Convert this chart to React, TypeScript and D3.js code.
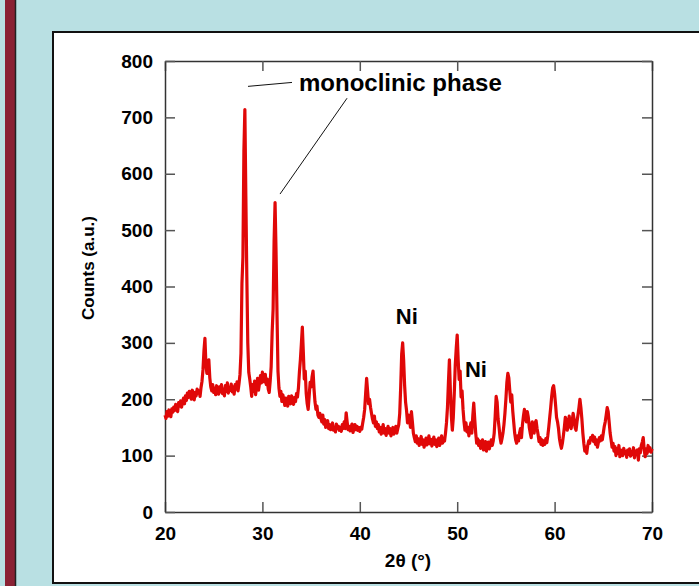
import React, { useEffect, useRef } from "react";
import * as d3 from "d3";

const angleStart = 20;
const angleStep = 0.1;
const counts = [
  172, 166, 178, 170, 181, 175, 169, 183, 177, 186,
  180, 191, 184, 178, 194, 188, 197, 186, 195, 202,
  192, 206, 198, 211, 203, 214, 208, 200, 216, 209,
  199, 212, 206, 218, 211, 215, 205, 221, 232, 252,
  286, 308, 262, 246, 264, 270, 238, 222, 215, 226,
  212, 220, 208, 224, 215, 209, 222, 213, 226, 210,
  218, 206, 224, 214, 229, 211, 220, 216, 227, 213,
  222, 209, 226, 218, 231, 215, 228, 244, 282, 405,
  452, 640, 714, 560, 418, 300, 248, 236, 222, 205,
  226, 214, 232, 208, 222, 237, 216, 228, 242, 229,
  248, 238, 231, 244, 226, 236, 218, 212, 232, 258,
  318, 360, 480, 549, 462, 350, 250, 220, 205, 214,
  196, 208, 200, 189, 202, 195, 188, 205, 198, 192,
  206, 198, 191, 203, 196, 210, 204, 220, 248, 270,
  298, 328, 284, 236, 250, 210, 192, 182, 205, 230,
  222, 240, 250, 218, 195, 182, 188, 172, 168, 175,
  166, 160, 172, 156, 164, 150, 158, 162, 148, 155,
  146, 152, 158, 145, 150, 142, 156, 148, 152, 145,
  150, 143, 155, 148, 160, 148, 176, 160, 146, 152,
  144, 150, 156, 141, 148, 155, 146, 152, 145, 150,
  143, 150, 147, 158, 168, 182, 210, 237, 215, 192,
  200, 186, 175, 165, 158, 170, 152, 160, 148, 155,
  142, 150, 138, 146, 155, 140, 148, 136, 145, 152,
  140, 148, 135, 143, 150, 138, 145, 152, 140, 148,
  155, 175, 222, 280, 300, 270, 225, 195, 180, 158,
  172, 165, 150, 178, 160, 140, 132, 125, 135, 122,
  130, 118, 126, 134, 120, 128, 115, 124, 131, 119,
  127, 135, 121, 129, 117, 126, 133, 120, 128, 116,
  124, 131, 118, 127, 135, 122, 130, 126, 140, 158,
  185, 230, 270, 215, 170, 145, 168, 210, 260, 290,
  314, 270, 235, 250, 204, 215, 182, 160, 145, 158,
  142, 150, 135, 148, 158, 140, 170, 193, 165, 140,
  122, 130, 118, 126, 113, 121, 128, 110, 119, 125,
  108, 117, 124, 112, 120, 128, 118, 126, 140, 170,
  205, 195, 165, 150, 132, 122, 130, 140, 155, 175,
  200, 230, 246, 238, 215, 195, 208, 180, 160, 140,
  128, 122, 135, 126, 140, 148, 132, 155, 170, 182,
  170, 160, 178, 168, 150, 140, 132, 160, 150, 140,
  158, 162, 148, 138, 125, 132, 120, 128, 118, 126,
  120, 130, 123, 135, 150, 168, 185, 205, 220, 224,
  210, 190, 168, 160, 148, 130, 120, 113, 122, 135,
  150, 168, 162, 145, 158, 170, 152, 148, 160, 175,
  165, 150, 145, 160, 172, 185, 200, 185, 165, 140,
  122, 108, 115, 104, 118, 126, 122, 132, 128, 136,
  125, 133, 120, 128, 115, 124, 132, 126, 135, 128,
  140, 152, 160, 172, 185, 178, 160, 140, 128, 115,
  122, 108, 116, 100, 112, 104, 118, 98, 110, 106,
  100, 113, 104, 108, 97, 110, 102, 112, 99, 107,
  102, 114, 96, 108, 104, 110, 92, 112, 105, 118,
  124, 132, 110, 98, 112, 104, 118, 108, 114, 106,
  112,
];

const xTicks = [20, 30, 40, 50, 60, 70];
const yTicks = [0, 100, 200, 300, 400, 500, 600, 700, 800];

// labels placed in data coordinates (angle, counts)
const labels = [
  { text: "monoclinic phase", angle: 33.76, value: 747, size: 24 },
  { text: "Ni", angle: 43.7, value: 333, size: 22 },
  { text: "Ni", angle: 50.8, value: 239, size: 22 },
];
const leaderLines = [
  { a0: 28.52, v0: 755, a1: 33.04, v1: 762 },
  { a0: 38.69, v0: 734, a1: 31.81, v1: 564 },
];

const W = 699;
const H = 586;

const App = () => {
  const ref = useRef<SVGSVGElement | null>(null);

  useEffect(() => {
    document.body.style.margin = "0";
    if (!ref.current) return;
    const svg = d3.select(ref.current);
    svg.selectAll("*").remove();

    const font = "'Liberation Sans', Arial, sans-serif";
    const margin = { top: 61, right: 47, bottom: 74, left: 165 };

    // slide background
    svg.append("rect").attr("width", W).attr("height", H).attr("fill", "#b9e0e3");
    svg.append("rect").attr("x", 5).attr("y", 0).attr("width", 10).attr("height", H).attr("fill", "#8a2234");
    svg.append("line").attr("x1", 15.5).attr("x2", 15.5).attr("y1", 0).attr("y2", H)
      .attr("stroke", "#222").attr("stroke-width", 1.5);
    svg.append("rect").attr("x", 53).attr("y", 32).attr("width", W).attr("height", 551)
      .attr("fill", "#fff").attr("stroke", "#111").attr("stroke-width", 2);

    const x = d3.scaleLinear().domain([20, 70]).range([margin.left, W - margin.right]);
    const y = d3.scaleLinear().domain([0, 800]).range([H - margin.bottom, margin.top]);

    const styleAxis = (g: any) => {
      g.select(".domain").attr("stroke", "#333").attr("stroke-width", 1.5);
      g.selectAll(".tick line").attr("stroke", "#555").attr("stroke-width", 1.5);
      g.selectAll("text").attr("font-family", font).attr("font-weight", "bold")
        .attr("font-size", 19).attr("fill", "#000");
    };

    svg.append("g").attr("transform", `translate(0,${H - margin.bottom})`)
      .call(d3.axisBottom(x).tickValues(xTicks).tickSize(-10).tickSizeOuter(0).tickPadding(15))
      .call(styleAxis);
    svg.append("g").attr("transform", `translate(0,${margin.top})`)
      .call(d3.axisTop(x).tickValues(xTicks).tickSize(-10).tickSizeOuter(0).tickFormat(() => ""))
      .call(styleAxis);
    svg.append("g").attr("transform", `translate(${margin.left},0)`)
      .call(d3.axisLeft(y).tickValues(yTicks).tickSize(-10).tickSizeOuter(0).tickPadding(12))
      .call(styleAxis);
    svg.append("g").attr("transform", `translate(${W - margin.right},0)`)
      .call(d3.axisRight(y).tickValues(yTicks).tickSize(-10).tickSizeOuter(0).tickFormat(() => ""))
      .call(styleAxis);

    const line = d3.line<number>()
      .x((_, i) => x(angleStart + i * angleStep))
      .y(d => y(d));

    svg.append("path")
      .datum(counts)
      .attr("fill", "none")
      .attr("stroke", "#e00808")
      .attr("stroke-width", 3.2)
      .attr("stroke-linejoin", "round")
      .attr("d", line);

    leaderLines.forEach(l => {
      svg.append("line")
        .attr("x1", x(l.a0)).attr("y1", y(l.v0))
        .attr("x2", x(l.a1)).attr("y2", y(l.v1))
        .attr("stroke", "#111").attr("stroke-width", 1);
    });

    labels.forEach(l => {
      svg.append("text")
        .attr("x", x(l.angle)).attr("y", y(l.value))
        .attr("font-family", font).attr("font-weight", "bold")
        .attr("font-size", l.size).attr("fill", "#000")
        .text(l.text);
    });

    // axis titles
    svg.append("text")
      .attr("x", 408).attr("y", 567)
      .attr("text-anchor", "middle")
      .attr("font-family", font).attr("font-weight", "bold").attr("font-size", 19)
      .text("2θ (°)");
    svg.append("text")
      .attr("transform", `translate(94,268) rotate(-90)`)
      .attr("text-anchor", "middle")
      .attr("font-family", font).attr("font-weight", "bold").attr("font-size", 17)
      .text("Counts (a.u.)");
  }, []);

  return <svg ref={ref} width={W} height={H} style={{ display: "block" }} />;
};

export default App;
